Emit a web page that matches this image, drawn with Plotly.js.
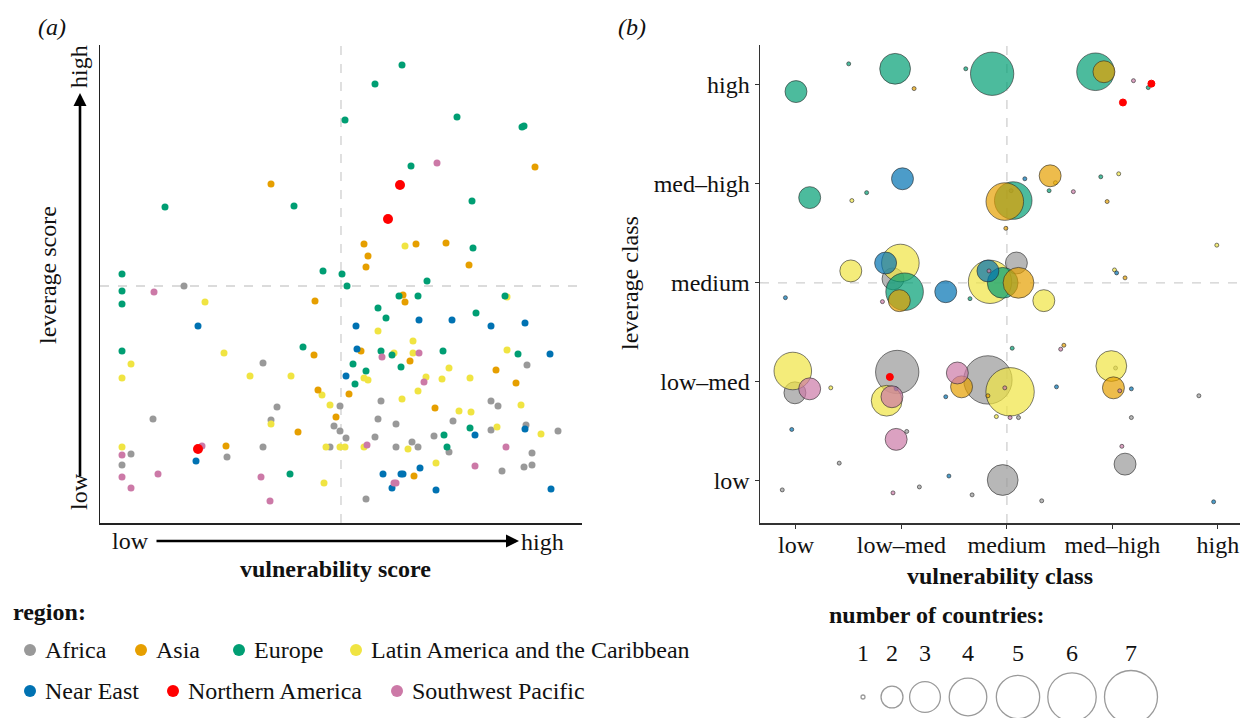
<!DOCTYPE html>
<html>
<head>
<meta charset="utf-8">
<script src="https://cdn.plot.ly/plotly-3.0.1.min.js"></script>
<style>html,body{margin:0;padding:0;background:#fff;}#chart{width:1240px;height:718px;}</style>
</head>
<body>
<div id="chart"></div>
<script>
// ---------------- DATA ----------------
const regions = ['Africa', 'Asia', 'Europe', 'Latin America and the Caribbean', 'Near East', 'Northern America', 'Southwest Pacific'];
const classLabels = ['low', 'low–med', 'medium', 'med–high', 'high'];
const classValues = [1, 2, 3, 4, 5];
const sizeLegendCounts = [1, 2, 3, 4, 5, 6, 7];

// Panel (a): vulnerability score (x) and leverage score (y), arbitrary units
const aAfricaX = [84,163,427,281,391,398,177,240,53,171,278,296,353,426,234,240,246,275,334,391,458,31,127,163,230,296,312,318,349,432,22,402,424,432,266];
const aAfricaY = [234,157,155,119,119,114,113,114,101,100,101,96,99,95,94,89,82,83,84,90,89,66,63,73,73,73,78,73,68,67,55,49,53,55,21];
const aAsiaX = [435,171,264,316,346,268,266,369,215,303,305,214,261,310,396,416,218,249,335,236,198,126,314];
const aAsiaY = [353,336,276,276,277,264,253,255,219,225,218,165,169,159,150,137,130,126,112,103,88,74,44];
const aEuropeX = [302,275,245,357,422,424,311,65,194,372,373,22,223,242,327,247,22,22,299,318,405,278,286,376,22,203,281,292,343,418,253,301,266,255,370,344,347,190];
const aEuropeY = [455,436,400,403,393,394,354,313,314,319,272,246,249,246,239,234,229,216,224,224,224,212,202,207,169,173,169,165,169,166,156,153,149,136,92,85,73,46];
const aLatAmX = [305,105,407,278,313,124,294,313,407,31,349,22,150,191,264,268,326,342,370,222,318,302,421,230,359,371,171,397,441,22,226,240,245,264,308,336,224];
const aLatAmY = [274,218,223,189,179,167,167,167,170,156,152,142,144,144,142,140,143,141,142,125,129,121,115,115,109,108,96,93,86,73,73,73,73,73,71,57,37];
const aNearEastX = [98,256,319,352,391,425,257,450,246,425,375,96,320,283,301,303,292,336,451];
const aNearEastY = [194,194,200,200,194,197,171,166,144,91,85,59,52,46,46,46,32,30,31];
const aNorthAmX = [300,288,98];
const aNorthAmY = [335,301,71];
const aSWPacificX = [337,54,282,319,324,22,102,267,406,375,22,58,161,31,294,296,170];
const aSWPacificY = [357,228,163,167,138,65,74,75,73,54,43,46,43,32,37,37,19];
const aVulnMid = 241;
const aLevMid = 234;

// Panel (b): vulnerability class (x), leverage class (y), number of countries (n); jittered positions
const bAfricaV = [3.04,1.92,3.09,0.99,1.96,2.05,1.41,0.87,2.17,2.67,2.96,3.33,4.12,4.18,4.82,4.03,2.82,3.11];
const bAfricaL = [3.93,3.04,3.20,1.89,2.10,1.50,1.18,0.91,0.94,0.86,1.01,0.80,1.17,1.64,1.86,2.14,2.02,1.64];
const bAfricaN = [1,2,2,2,5,1,1,1,1,1,3,1,2,1,1,1,6,1];
const bLatAmV = [1.53,4.06,3.46,4.99,1.52,1.99,2.84,3.35,4.02,0.97,1.33,1.86,3.03,2.90,3.99];
const bLatAmL = [3.83,4.10,4.01,3.38,3.12,3.20,3.01,2.82,3.13,2.11,1.94,1.81,1.90,1.65,2.16];
const bLatAmN = [1,1,1,1,2,4,5,2,1,4,1,3,6,1,3];
const bEuropeV = [1.00,1.50,1.94,2.61,2.86,3.84,4.34,1.13,1.67,3.06,3.40,3.89,2.03,2.65,2.96,3.05];
const bEuropeL = [4.93,5.21,5.16,5.16,5.11,5.13,4.97,3.86,3.91,3.83,3.93,4.07,2.91,2.84,3.00,2.34];
const bEuropeN = [2,1,3,1,5,4,1,2,1,4,1,1,4,1,3,1];
const bAsiaV = [2.12,3.92,2.98,3.41,3.95,2.99,1.98,3.11,4.12,3.54,2.57,2.82,4.01];
const bAsiaL = [4.96,5.13,3.82,4.08,3.82,3.55,2.82,3.00,3.05,2.37,1.95,1.86,1.94];
const bAsiaN = [1,2,4,2,1,1,2,3,1,1,2,1,2];
const bNearEastV = [2.01,3.17,1.85,0.90,2.42,2.82,4.04,1.95,0.96,2.45,4.96,4.18,3.47,2.42];
const bNearEastL = [4.05,4.05,3.20,2.85,2.91,3.12,3.10,1.93,1.52,1.05,0.79,1.93,1.95,1.85];
const bNearEastN = [2,1,2,1,2,2,1,1,1,1,1,1,1,1];
const bSWPacificV = [4.20,3.63,1.82,2.83,3.51,1.13,1.91,1.95,1.92,2.53,2.98,3.03,4.09,4.07];
const bSWPacificL = [5.04,3.92,2.81,3.12,2.33,1.93,1.85,1.42,0.88,2.09,1.94,1.64,1.35,1.91];
const bSWPacificN = [1,1,1,1,1,2,2,2,1,2,1,1,1,1];
const bNorthAmV = [4.37,4.10,1.89];
const bNorthAmL = [5.01,4.82,2.05];
const bNorthAmN = [1,1,1];
const bMid = 3;

// ---------------- STYLE ----------------
const colors = {
  'Africa': '#999999', 'Asia': '#E69F00', 'Europe': '#009E73',
  'Latin America and the Caribbean': '#F0E442', 'Near East': '#0072B2',
  'Northern America': '#FF0000', 'Southwest Pacific': '#CC79A7'
};
const W = 1240, H = 718;
const fx = p => p / W;
const fy = p => 1 - p / H;
const FONT = 'Liberation Serif, Times New Roman, serif';
const FS = 24;
function hexA(hex, a) {
  const r = parseInt(hex.slice(1,3),16), g = parseInt(hex.slice(3,5),16), b = parseInt(hex.slice(5,7),16);
  return `rgba(${r},${g},${b},${a})`;
}
// ggplot-like area size scale: diameter range 4px (n=1) .. 53px (n=7)
const sizeFor = n => Math.sqrt(16 + 465.5 * (n - 1));

const panelA = [
  ['Africa', aAfricaX, aAfricaY],
  ['Latin America and the Caribbean', aLatAmX, aLatAmY],
  ['Asia', aAsiaX, aAsiaY],
  ['Europe', aEuropeX, aEuropeY],
  ['Near East', aNearEastX, aNearEastY],
  ['Southwest Pacific', aSWPacificX, aSWPacificY],
  ['Northern America', aNorthAmX, aNorthAmY]
];
const panelB = [
  ['Africa', bAfricaV, bAfricaL, bAfricaN],
  ['Latin America and the Caribbean', bLatAmV, bLatAmL, bLatAmN],
  ['Europe', bEuropeV, bEuropeL, bEuropeN],
  ['Asia', bAsiaV, bAsiaL, bAsiaN],
  ['Near East', bNearEastV, bNearEastL, bNearEastN],
  ['Southwest Pacific', bSWPacificV, bSWPacificL, bSWPacificN],
  ['Northern America', bNorthAmV, bNorthAmL, bNorthAmN]
];

const traces = [];
panelA.forEach(([reg, xs, ys]) => {
  traces.push({
    type: 'scatter', mode: 'markers', x: xs, y: ys, xaxis: 'x', yaxis: 'y',
    name: reg, showlegend: false, hoverinfo: 'skip',
    marker: { color: colors[reg], opacity: 1, size: reg === 'Northern America' ? 10 : 7, line: { width: 0 } }
  });
});
panelB.forEach(([reg, vs, ls, ns]) => {
  const isNA = reg === 'Northern America';
  traces.push({
    type: 'scatter', mode: 'markers', x: vs, y: ls, xaxis: 'x2', yaxis: 'y2',
    name: reg, showlegend: false, hoverinfo: 'skip',
    marker: {
      opacity: 1,
      color: isNA ? colors[reg] : hexA(colors[reg], 0.7),
      size: ns.map(n => isNA ? 7 : sizeFor(n)),
      line: { color: isNA ? colors[reg] : 'rgba(40,40,40,0.6)', width: 1 }
    }
  });
});

// ---------------- LAYOUT ----------------
const yDom = [fy(523), fy(45)];
const axisLine = { showline: true, linecolor: '#222', linewidth: 1.5, showgrid: false, zeroline: false, fixedrange: true };
const tickStyle = { ticks: 'outside', ticklen: 4, tickwidth: 1, tickcolor: '#333', tickfont: { family: FONT, size: FS, color: '#111' } };
const layout = {
  width: W, height: H, margin: { l: 0, r: 0, t: 0, b: 0 },
  paper_bgcolor: '#fff', plot_bgcolor: '#fff',
  font: { family: FONT, color: '#111', size: FS },
  showlegend: false,
  xaxis: Object.assign({ domain: [fx(100), fx(582)], range: [0, 482], anchor: 'y', showticklabels: false, ticks: '' }, axisLine),
  yaxis: Object.assign({ domain: yDom, range: [-3, 475], anchor: 'x', showticklabels: false, ticks: '' }, axisLine),
  xaxis2: Object.assign({ domain: [fx(760), 1], range: [0.659, 5.21], anchor: 'y2', tickvals: classValues, ticktext: classLabels, ticklabelstandoff: -4 },
    axisLine, tickStyle, { linecolor: '#333' }),
  yaxis2: Object.assign({ domain: yDom, range: [0.576, 5.40], anchor: 'x2', tickvals: classValues, ticktext: classLabels },
    axisLine, tickStyle, { linecolor: '#333' }),
  shapes: [],
  annotations: []
};

const dash = { color: '#cfcfcf', width: 1.3, dash: 'dash' };
layout.shapes.push(
  { type: 'line', xref: 'x', yref: 'y', x0: aVulnMid, x1: aVulnMid, y0: -3, y1: 475, line: dash, layer: 'below' },
  { type: 'line', xref: 'x', yref: 'y', x0: 0, x1: 482, y0: aLevMid, y1: aLevMid, line: dash, layer: 'below' },
  { type: 'line', xref: 'x2', yref: 'y2', x0: bMid, x1: bMid, y0: 0.576, y1: 5.40, line: dash, layer: 'below' },
  { type: 'line', xref: 'x2', yref: 'y2', x0: 0.659, x1: 5.21, y0: bMid, y1: bMid, line: dash, layer: 'below' }
);

function txt(text, px, py, opts) {
  layout.annotations.push(Object.assign({
    text: text, x: fx(px), y: fy(py), xref: 'paper', yref: 'paper', showarrow: false,
    xanchor: 'center', yanchor: 'middle', font: { family: FONT, size: FS, color: '#111' }
  }, opts || {}));
}
txt('<i>(a)</i>', 52, 27);
txt('<i>(b)</i>', 632, 27);
txt('low', 130, 541);
txt('high', 542, 542);
txt('<b>vulnerability score</b>', 335, 569);
txt('leverage score', 48, 275, { textangle: -90 });
txt('high', 79, 67, { textangle: -90 });
txt('low', 79, 492, { textangle: -90 });
txt('<b>vulnerability class</b>', 1000, 576);
txt('leverage class', 630, 283, { textangle: -90 });
txt('<b>region:</b>', 11, 612, { xanchor: 'left' });
txt('<b>number of countries:</b>', 937, 615);

// arrows
layout.annotations.push(
  { text: '', x: fx(519), y: fy(541), xref: 'paper', yref: 'paper', showarrow: true, ax: -364, ay: 0,
    arrowhead: 2, arrowsize: 1, arrowwidth: 2.6, arrowcolor: '#000', standoff: 0 },
  { text: '', x: fx(80), y: fy(93), xref: 'paper', yref: 'paper', showarrow: true, ax: 0, ay: 385,
    arrowhead: 2, arrowsize: 1, arrowwidth: 2.6, arrowcolor: '#000', standoff: 0 }
);

// region legend
const legendDotX = [30, 141, 239, 356, 30, 173, 397];
const legendDotY = [650, 650, 650, 650, 691, 691, 691];
regions.forEach((reg, i) => {
  const cx = legendDotX[i], cy = legendDotY[i];
  layout.shapes.push({ type: 'circle', xref: 'paper', yref: 'paper', xsizemode: 'pixel', ysizemode: 'pixel',
    xanchor: fx(cx), yanchor: fy(cy), x0: -6, x1: 6, y0: -6, y1: 6,
    fillcolor: colors[reg], line: { width: 0 } });
  txt(reg, cx + 13, cy, { xanchor: 'left' });
});

// size legend
const sizeLegendX = [863, 892, 925, 968, 1018, 1072, 1131];
sizeLegendCounts.forEach((n, i) => {
  const r = sizeFor(n) / 2;
  layout.shapes.push({ type: 'circle', xref: 'paper', yref: 'paper', xsizemode: 'pixel', ysizemode: 'pixel',
    xanchor: fx(sizeLegendX[i]), yanchor: fy(697), x0: -r, x1: r, y0: -r, y1: r,
    fillcolor: 'rgba(0,0,0,0)', line: { color: '#9a9a9a', width: 1.3 } });
  txt(String(n), sizeLegendX[i], 653);
});

Plotly.newPlot('chart', traces, layout, { staticPlot: true, displayModeBar: false });
</script>
</body>
</html>
